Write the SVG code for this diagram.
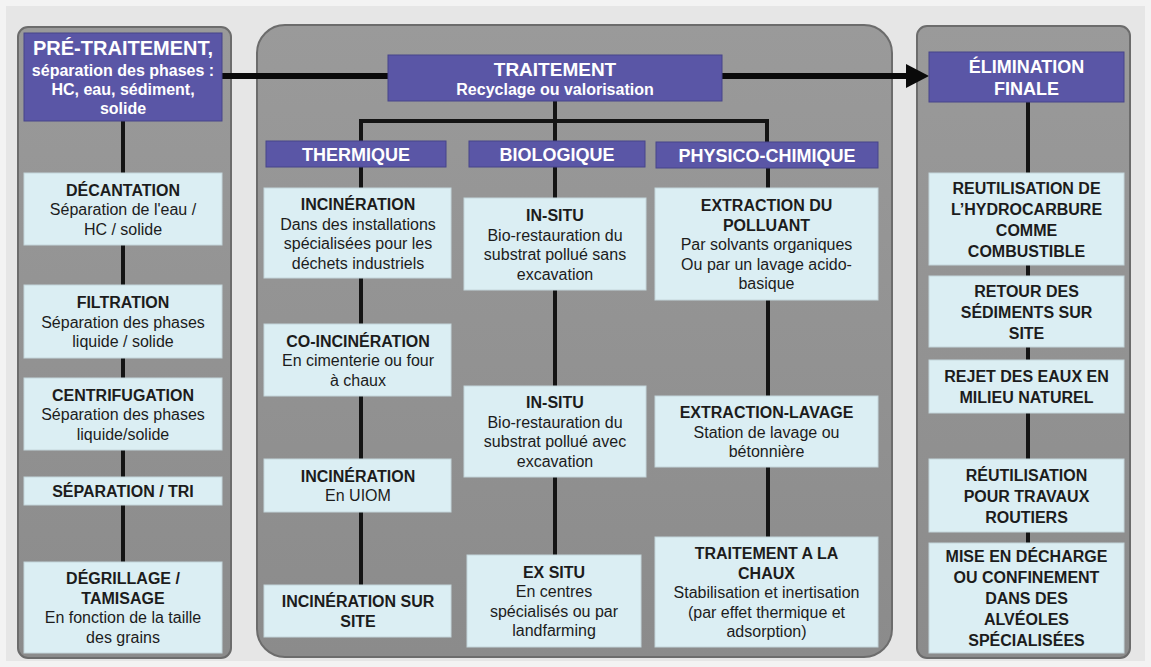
<svg xmlns="http://www.w3.org/2000/svg" width="1151" height="667" viewBox="0 0 1151 667">
<defs>
<style>
.panel{fill:#8f8f8f;stroke:#6c6c6c;stroke-width:2}
.hdr{fill:#5a56a6;stroke:#47448a;stroke-width:1}
.box{fill:#dbeef3;stroke:#c4d6db;stroke-width:1}
.ln{stroke:#141414;stroke-width:4;fill:none}
.main{stroke:#0a0a0a;stroke-width:6;fill:none}
text{font-family:"Liberation Sans",Arial,sans-serif;text-anchor:middle}
.w{fill:#ffffff;font-weight:bold}
.t{fill:#1c1c1c;font-size:16px;font-weight:bold}
.d{fill:#1c1c1c;font-size:16px}
</style>
<linearGradient id="pg" x1="0" y1="0" x2="0" y2="1">
<stop offset="0" stop-color="#9a9a9a"/>
<stop offset="1" stop-color="#8b8b8b"/>
</linearGradient>
</defs>
<rect x="0" y="0" width="1151" height="667" fill="#f3f3f3"/>
<rect x="6" y="6" width="1139" height="655" fill="#e6e6e6"/>

<g id="panels">
<rect class="panel" x="18" y="27" width="213" height="631" rx="10" style="fill:url(#pg)"/>
<rect class="panel" x="257" y="25" width="635" height="632" rx="28" style="fill:url(#pg)"/>
<rect class="panel" x="917" y="26" width="213" height="632" rx="10" style="fill:url(#pg)"/>
</g>

<g id="connectors">
<line class="main" x1="222" y1="76" x2="388" y2="76"/>
<line class="main" x1="722" y1="76" x2="910" y2="76"/>
<polygon points="906,64 929,76 906,88" fill="#0a0a0a"/>
<line class="ln" x1="123" y1="121" x2="123" y2="562"/>
<line class="ln" x1="555" y1="101" x2="555" y2="121"/>
<line class="ln" x1="361" y1="121" x2="769" y2="121"/>
<line class="ln" x1="361" y1="119" x2="361" y2="141"/>
<line class="ln" x1="767" y1="119" x2="767" y2="142"/>
<line class="ln" x1="361" y1="167" x2="361" y2="585"/>
<line class="ln" x1="555" y1="121" x2="555" y2="555"/>
<line class="ln" x1="768" y1="168" x2="768" y2="537"/>
<line class="ln" x1="1028" y1="102" x2="1028" y2="543"/>
</g>

<g id="n-pretraitement">
<rect class="hdr" x="24" y="33" width="198" height="88"/>
<text class="w" x="123" y="55" font-size="20">PRÉ-TRAITEMENT,</text>
<text class="w" x="123" y="76" font-size="16">séparation des phases :</text>
<text class="w" x="123" y="95" font-size="16">HC, eau, sédiment,</text>
<text class="w" x="123" y="114" font-size="16">solide</text>
</g>
<g id="n-decantation">
<rect class="box" x="24" y="173" width="198" height="72"/>
<text class="t" x="123" y="196">DÉCANTATION</text>
<text class="d" x="123" y="215">Séparation de l'eau /</text>
<text class="d" x="123" y="235">HC / solide</text>
</g>
<g id="n-filtration">
<rect class="box" x="24" y="285" width="198" height="73"/>
<text class="t" x="123" y="308">FILTRATION</text>
<text class="d" x="123" y="327.5">Séparation des phases</text>
<text class="d" x="123" y="347">liquide / solide</text>
</g>
<g id="n-centrifugation">
<rect class="box" x="24" y="378" width="198" height="72"/>
<text class="t" x="123" y="400.5">CENTRIFUGATION</text>
<text class="d" x="123" y="420">Séparation des phases</text>
<text class="d" x="123" y="439.5">liquide/solide</text>
</g>
<g id="n-separation">
<rect class="box" x="24" y="477" width="198" height="28"/>
<text class="t" x="123" y="497">SÉPARATION / TRI</text>
</g>
<g id="n-degrillage">
<rect class="box" x="24" y="562" width="198" height="91"/>
<text class="t" x="123" y="584">DÉGRILLAGE /</text>
<text class="t" x="123" y="604">TAMISAGE</text>
<text class="d" x="123" y="623">En fonction de la taille</text>
<text class="d" x="123" y="643">des grains</text>
</g>

<g id="n-traitement">
<rect class="hdr" x="388" y="55" width="334" height="46"/>
<text class="w" x="555" y="76" font-size="19">TRAITEMENT</text>
<text class="w" x="555" y="95" font-size="16">Recyclage ou valorisation</text>
</g>
<g id="n-thermique">
<rect class="hdr" x="266" y="141" width="180" height="26"/>
<text class="w" x="356" y="160.5" font-size="18">THERMIQUE</text>
</g>
<g id="n-biologique">
<rect class="hdr" x="469" y="141" width="176" height="26"/>
<text class="w" x="557" y="160.5" font-size="18">BIOLOGIQUE</text>
</g>
<g id="n-physico">
<rect class="hdr" x="656" y="142" width="222" height="26"/>
<text class="w" x="767" y="161.5" font-size="18">PHYSICO-CHIMIQUE</text>
</g>

<g id="n-incineration1">
<rect class="box" x="264" y="188" width="187" height="90"/>
<text class="t" x="358" y="210">INCINÉRATION</text>
<text class="d" x="358" y="229.5">Dans des installations</text>
<text class="d" x="358" y="249">spécialisées pour les</text>
<text class="d" x="358" y="268.5">déchets industriels</text>
</g>
<g id="n-coincineration">
<rect class="box" x="264" y="324" width="187" height="72"/>
<text class="t" x="358" y="346.5">CO-INCINÉRATION</text>
<text class="d" x="358" y="366">En cimenterie ou four</text>
<text class="d" x="358" y="385.5">à chaux</text>
</g>
<g id="n-uiom">
<rect class="box" x="264" y="459" width="187" height="53"/>
<text class="t" x="358" y="482">INCINÉRATION</text>
<text class="d" x="358" y="501">En UIOM</text>
</g>
<g id="n-surSite">
<rect class="box" x="264" y="585" width="187" height="52"/>
<text class="t" x="358" y="607">INCINÉRATION  SUR</text>
<text class="t" x="358" y="627">SITE</text>
</g>

<g id="n-insitu1">
<rect class="box" x="464" y="198" width="182" height="92"/>
<text class="t" x="555" y="221">IN-SITU</text>
<text class="d" x="555" y="240.5">Bio-restauration du</text>
<text class="d" x="555" y="260">substrat pollué  sans</text>
<text class="d" x="555" y="279.5">excavation</text>
</g>
<g id="n-insitu2">
<rect class="box" x="464" y="386" width="182" height="91"/>
<text class="t" x="555" y="408">IN-SITU</text>
<text class="d" x="555" y="428">Bio-restauration du</text>
<text class="d" x="555" y="447">substrat pollué  avec</text>
<text class="d" x="555" y="467">excavation</text>
</g>
<g id="n-exsitu">
<rect class="box" x="467" y="555" width="174" height="92"/>
<text class="t" x="554" y="578">EX SITU</text>
<text class="d" x="554" y="597">En centres</text>
<text class="d" x="554" y="617">spécialisés ou par</text>
<text class="d" x="554" y="636">landfarming</text>
</g>

<g id="n-extraction">
<rect class="box" x="655" y="188" width="223" height="112"/>
<text class="t" x="766.5" y="211">EXTRACTION DU</text>
<text class="t" x="766.5" y="230.5">POLLUANT</text>
<text class="d" x="766.5" y="250">Par solvants organiques</text>
<text class="d" x="766.5" y="269.5">Ou par un lavage acido-</text>
<text class="d" x="766.5" y="289">basique</text>
</g>
<g id="n-lavage">
<rect class="box" x="655" y="396" width="223" height="71"/>
<text class="t" x="766.5" y="418">EXTRACTION-LAVAGE</text>
<text class="d" x="766.5" y="437.5">Station de lavage ou</text>
<text class="d" x="766.5" y="457">bétonnière</text>
</g>
<g id="n-chaux">
<rect class="box" x="655" y="537" width="223" height="110"/>
<text class="t" x="766.5" y="559">TRAITEMENT A LA</text>
<text class="t" x="766.5" y="578.5">CHAUX</text>
<text class="d" x="766.5" y="598">Stabilisation et inertisation</text>
<text class="d" x="766.5" y="617.5">(par effet thermique  et</text>
<text class="d" x="766.5" y="637">adsorption)</text>
</g>

<g id="n-elimination">
<rect class="hdr" x="929" y="52" width="195" height="50"/>
<text class="w" x="1026.5" y="72.5" font-size="18">ÉLIMINATION</text>
<text class="w" x="1026.5" y="94.5" font-size="18">FINALE</text>
</g>
<g id="n-reutilisation-hc">
<rect class="box" x="929" y="173" width="195" height="92"/>
<text class="t" x="1026.5" y="193.5">REUTILISATION DE</text>
<text class="t" x="1026.5" y="214.5">L’HYDROCARBURE</text>
<text class="t" x="1026.5" y="235.5">COMME</text>
<text class="t" x="1026.5" y="256.5">COMBUSTIBLE</text>
</g>
<g id="n-retour">
<rect class="box" x="929" y="276" width="195" height="71"/>
<text class="t" x="1026.5" y="296.5">RETOUR DES</text>
<text class="t" x="1026.5" y="317.5">SÉDIMENTS SUR</text>
<text class="t" x="1026.5" y="338.5">SITE</text>
</g>
<g id="n-rejet">
<rect class="box" x="929" y="360" width="195" height="53"/>
<text class="t" x="1026.5" y="382">REJET DES EAUX EN</text>
<text class="t" x="1026.5" y="403">MILIEU NATUREL</text>
</g>
<g id="n-routiers">
<rect class="box" x="929" y="459" width="195" height="73"/>
<text class="t" x="1026.5" y="480.5">RÉUTILISATION</text>
<text class="t" x="1026.5" y="501.5">POUR TRAVAUX</text>
<text class="t" x="1026.5" y="522.5">ROUTIERS</text>
</g>
<g id="n-decharge">
<rect class="box" x="929" y="543" width="195" height="110"/>
<text class="t" x="1026.5" y="562">MISE EN DÉCHARGE</text>
<text class="t" x="1026.5" y="583">OU CONFINEMENT</text>
<text class="t" x="1026.5" y="604">DANS DES</text>
<text class="t" x="1026.5" y="625">ALVÉOLES</text>
<text class="t" x="1026.5" y="646">SPÉCIALISÉES</text>
</g>
</svg>
